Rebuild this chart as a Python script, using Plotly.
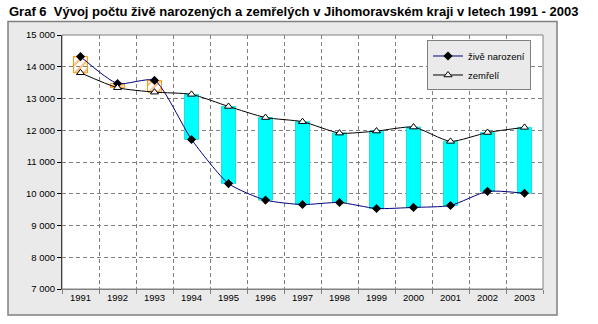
import plotly.graph_objects as go

years = ["1991", "1992", "1993", "1994", "1995", "1996", "1997",
         "1998", "1999", "2000", "2001", "2002", "2003"]
born = [14320, 13470, 13570, 11710, 10320, 9800, 9660, 9725, 9535, 9570, 9630, 10075, 10015]
dead = [13810, 13340, 13200, 13130, 12750, 12400, 12270, 11910, 11975, 12100, 11650, 11930, 12090]
y_ticks = [7000, 8000, 9000, 10000, 11000, 12000, 13000, 14000, 15000]

title_text = "Graf 6  Vývoj počtu živě narozených a zemřelých v Jihomoravském kraji v letech 1991 - 2003"
name_born = "živě narození"
name_dead = "zemřelí"

W, H = 598, 324
L, R, T, B = 62, 55, 34.5, 35
pw = W - L - R
ph = H - T - B

def px_x(x):
    return (x - L) / pw

def px_y(y):
    return (H - B - y) / ph

base = [min(b, d) for b, d in zip(born, dead)]
height = [abs(b - d) for b, d in zip(born, dead)]
up = [b > d for b, d in zip(born, dead)]
bar_bg = ["#FFBB77" if u else "#00FFFF" for u in up]
bar_fg = ["#FFEEDD" if u else "#00FFFF" for u in up]
bar_shape = ["/" if u else "" for u in up]
bar_line = ["#FF9900" if u else "#22DDDD" for u in up]

font = "Liberation Sans, Arial, sans-serif"

fig = go.Figure()
fig.add_trace(go.Bar(
    x=years, y=height, base=base, width=0.38, showlegend=False,
    marker=dict(color=bar_bg, line=dict(color=bar_line, width=1),
                pattern=dict(shape=bar_shape, bgcolor=bar_bg, fgcolor=bar_fg,
                             size=6, solidity=0.35, fillmode="replace")),
    hoverinfo="skip",
))
fig.add_trace(go.Scatter(
    x=years, y=born, name=name_born, mode="lines+markers",
    line=dict(color="#000080", width=1, shape="spline", smoothing=0.6),
    marker=dict(symbol="diamond", size=7, color="black", line=dict(color="black", width=0)),
))
fig.add_trace(go.Scatter(
    x=years, y=dead, name=name_dead, mode="lines+markers",
    line=dict(color="black", width=1, shape="spline", smoothing=0.6),
    marker=dict(symbol="triangle-up", size=7, color="white", line=dict(color="black", width=1)),
))

shapes = [
    dict(type="rect", xref="paper", yref="paper", layer="below",
         x0=px_x(8), x1=px_x(557), y0=px_y(315), y1=px_y(21),
         fillcolor="#EAEAEA", line=dict(color="#808080", width=1.5)),
    dict(type="rect", xref="paper", yref="paper", layer="below",
         x0=0, x1=1, y0=0, y1=1, fillcolor="white", line=dict(width=0)),
    dict(type="rect", xref="paper", yref="paper", layer="above",
         x0=0, x1=1, y0=0, y1=1, fillcolor="rgba(0,0,0,0)",
         line=dict(color="#808080", width=1)),
]

fig.update_layout(
    width=W, height=H,
    margin=dict(l=L, r=R, t=T, b=B, pad=0),
    paper_bgcolor="white", plot_bgcolor="rgba(0,0,0,0)",
    separators=", ",
    font=dict(family=font, size=10, color="black"),
    shapes=shapes,
    showlegend=True,
    legend=dict(x=px_x(427), y=px_y(40), xanchor="left", yanchor="top",
                bgcolor="#EAEAEA", bordercolor="#808080", borderwidth=1,
                font=dict(family=font, size=9.5), tracegroupgap=0,
                itemwidth=30),
    annotations=[dict(text="<b>" + title_text + "</b>", xref="paper", yref="paper",
                      x=px_x(7), y=px_y(1), xanchor="left", yanchor="top",
                      showarrow=False, font=dict(family=font, size=13, color="black"))],
    bargap=0.62,
)
fig.update_xaxes(
    type="category", tickson="boundaries", ticks="outside", ticklen=4,
    tickcolor="#808080", showgrid=True, gridcolor="#808080", griddash="4px,3px",
    gridwidth=1, showline=True, linecolor="#808080", linewidth=1,
    tickfont=dict(family=font, size=9.5), range=[-0.5, 12.5],
)
fig.update_yaxes(
    range=[7000, 15000], tickvals=y_ticks, tickformat=",d", ticks="outside",
    ticklen=4, tickcolor="black", showgrid=True, gridcolor="#808080",
    griddash="4px,3px", gridwidth=1, showline=True, linecolor="black",
    linewidth=1, tickfont=dict(family=font, size=9.5), zeroline=False,
)

fig.write_html("out.html")
